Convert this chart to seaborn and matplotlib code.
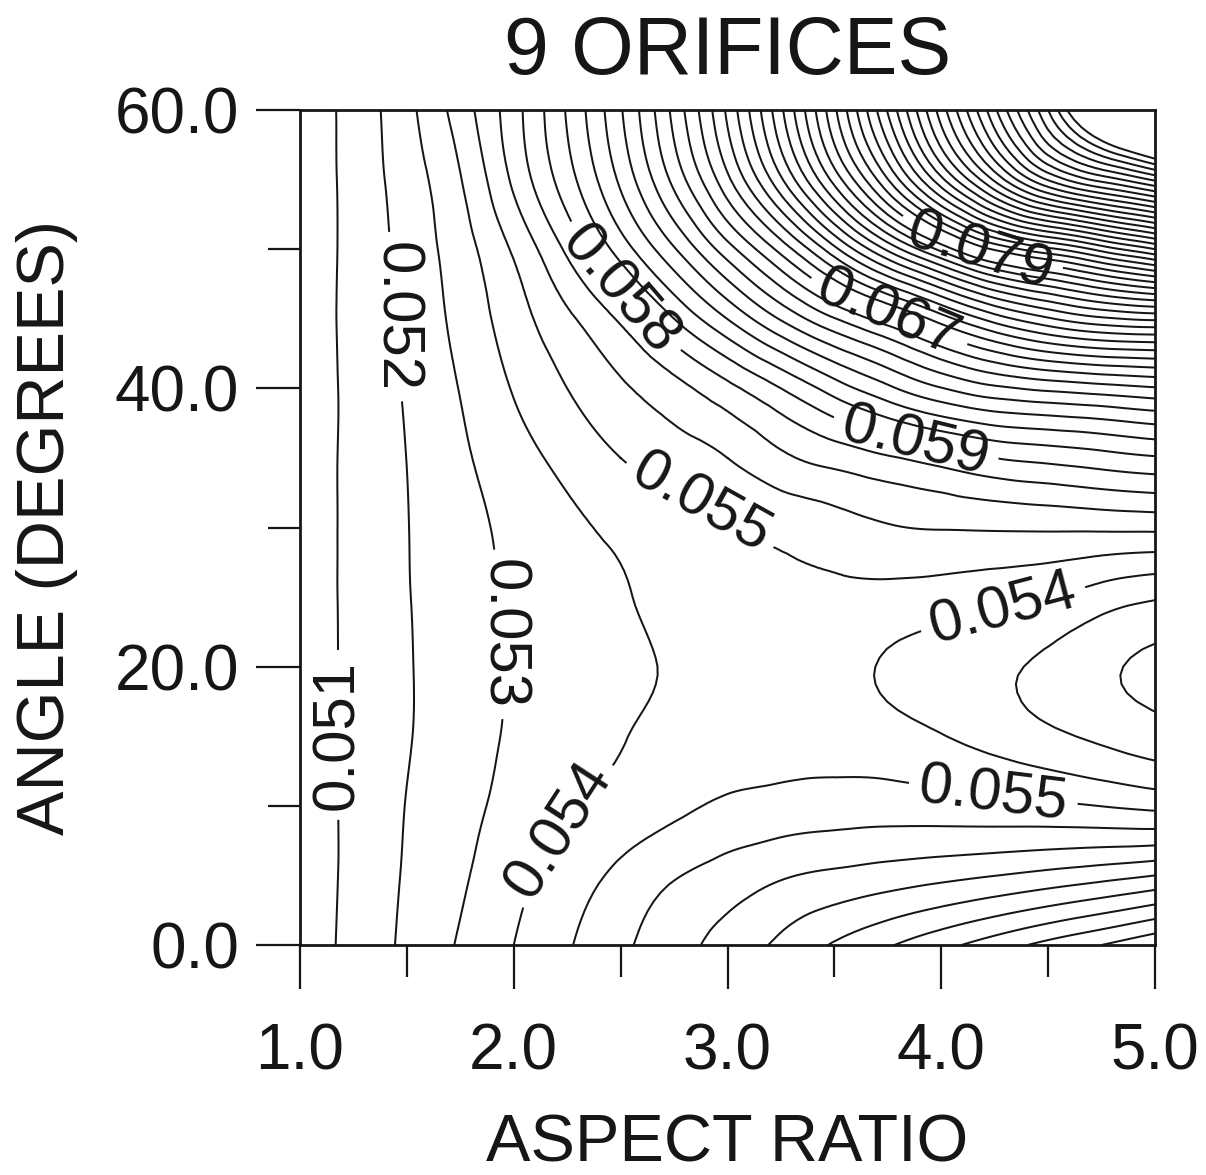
import numpy as np
import pandas as pd
import matplotlib
matplotlib.use("Agg")
import matplotlib.pyplot as plt
import matplotlib.tri as mtri
import seaborn as sns
from matplotlib.ticker import FixedLocator

# ---------------- data ----------------
aspect_ratio = [1.0, 1.25, 1.5, 1.75, 2.0, 2.25, 2.5, 2.75, 3.0,
                3.25, 3.5, 3.75, 4.0, 4.25, 4.5, 4.75, 5.0]
angle_deg = [0, 5, 10, 15, 20, 25, 30, 35, 40, 45, 50, 55, 60]

z_angle_00 = [0.0504, 0.0513, 0.0522, 0.0531, 0.0540, 0.0549, 0.0558, 0.0566, 0.0574,
              0.0582, 0.0591, 0.0599, 0.0607, 0.0615, 0.0623, 0.0630, 0.0638]
z_angle_05 = [0.0504, 0.05125, 0.0521, 0.05286, 0.05368, 0.05447, 0.05523, 0.05592, 0.05642,
              0.05689, 0.05719, 0.05745, 0.05771, 0.05798, 0.05829, 0.05862, 0.0590]
z_angle_10 = [0.0504, 0.05124, 0.05203, 0.0527, 0.05332, 0.0539, 0.05435, 0.05476, 0.05517,
              0.05535, 0.05547, 0.05551, 0.05543, 0.05531, 0.05518, 0.05498, 0.05475]
z_angle_15 = [0.0505, 0.05121, 0.05193, 0.05256, 0.05313, 0.05353, 0.05394, 0.05429, 0.05451,
              0.0546, 0.05455, 0.05436, 0.05404, 0.05363, 0.05321, 0.0528, 0.0524]
z_angle_20 = [0.0505, 0.05121, 0.05192, 0.05254, 0.05309, 0.05342, 0.05376, 0.05412, 0.05444,
              0.05449, 0.0543, 0.0539, 0.05356, 0.05321, 0.05277, 0.05219, 0.0518]
z_angle_25 = [0.0505, 0.05122, 0.05195, 0.05258, 0.05313, 0.05352, 0.05391, 0.0543, 0.05465,
              0.05477, 0.05475, 0.05468, 0.05452, 0.05432, 0.05405, 0.05351, 0.0531]
z_angle_30 = [0.0505, 0.05122, 0.05197, 0.05265, 0.05325, 0.05377, 0.05421, 0.05456, 0.05493,
              0.05526, 0.05559, 0.05593, 0.05605, 0.0561, 0.05614, 0.05618, 0.05622]
z_angle_35 = [0.0504, 0.05124, 0.05201, 0.05282, 0.05359, 0.05431, 0.0550, 0.05551, 0.0560,
              0.0568, 0.05737, 0.05789, 0.05843, 0.0590, 0.0593, 0.0596, 0.0599]
z_angle_40 = [0.0504, 0.05124, 0.0521, 0.05304, 0.05407, 0.0550, 0.05585, 0.05666, 0.05771,
              0.0590, 0.06047, 0.06178, 0.06295, 0.06378, 0.06424, 0.06457, 0.0649]
z_angle_45 = [0.0504, 0.05128, 0.05221, 0.05331, 0.05452, 0.0558, 0.05716, 0.0590, 0.06102,
              0.0631, 0.06494, 0.06658, 0.06851, 0.07046, 0.07186, 0.0728, 0.0732]
z_angle_50 = [0.0503, 0.0513, 0.05232, 0.05355, 0.05514, 0.05719, 0.05944, 0.0619, 0.06458,
              0.06735, 0.07071, 0.07421, 0.07731, 0.08014, 0.08176, 0.08338, 0.0850]
z_angle_55 = [0.0503, 0.05133, 0.05249, 0.05395, 0.0562, 0.05858, 0.0612, 0.06429, 0.06777,
              0.07184, 0.07637, 0.08097, 0.08574, 0.0902, 0.0941, 0.09638, 0.0982]
z_angle_60 = [0.0503, 0.05136, 0.05271, 0.05448, 0.0566, 0.0591, 0.0619, 0.0653, 0.0692,
              0.0738, 0.0788, 0.0841, 0.0895, 0.0948, 0.1000, 0.1055, 0.1100]

contour_min = 0.051
contour_max = 0.102
contour_step = 0.001

# labelled contours: value, (aspect ratio, angle) near which the label sits
label_values = [0.051, 0.052, 0.053, 0.054, 0.055, 0.058, 0.059, 0.067, 0.079, 0.054, 0.055]
label_places = [(1.16, 15.1), (1.40, 45.1), (1.89, 22.3), (2.26, 7.7), (2.86, 31.4),
                (2.55, 47.8), (3.88, 36.3), (3.79, 47.1), (4.23, 52.2), (4.29, 24.1),
                (4.24, 10.4)]
label_rotation = {0.051: 90, 0.052: -90, 0.053: -90}

x_ticks = [1.0, 2.0, 3.0, 4.0, 5.0]
x_minor = [1.5, 2.5, 3.5, 4.5]
y_ticks = [0.0, 20.0, 40.0, 60.0]
y_minor = [10.0, 30.0, 50.0]

# ---------------- figure ----------------
sns.set_theme(style="white")
plt.rcParams["font.family"] = ["Liberation Sans", "DejaVu Sans"]

grid = pd.DataFrame([z_angle_00, z_angle_05, z_angle_10, z_angle_15, z_angle_20,
                     z_angle_25, z_angle_30, z_angle_35, z_angle_40, z_angle_45,
                     z_angle_50, z_angle_55, z_angle_60],
                    index=angle_deg, columns=aspect_ratio)

# smooth contouring through matplotlib's triangulation refiner
angle_scale = 20.0  # makes grid cells roughly square for the interpolator
gx, gy = np.meshgrid(grid.columns.values.astype(float), grid.index.values.astype(float))
tri = mtri.Triangulation(gx.ravel(), gy.ravel() / angle_scale)
zflat = grid.values.ravel()
interp = mtri.CubicTriInterpolator(tri, zflat, kind="min_E")
tri_fine, z_fine = mtri.UniformTriRefiner(tri).refine_field(zflat, triinterpolator=interp,
                                                            subdiv=3)
tri_plot = mtri.Triangulation(tri_fine.x, tri_fine.y * angle_scale, tri_fine.triangles)

levels = np.round(np.arange(contour_min, contour_max + contour_step / 2, contour_step), 3)
labelled = sorted(set(label_values))
plain_levels = [lv for lv in levels if round(lv, 3) not in labelled]

ink = "#161616"
lw = 1.45

fig = plt.figure(figsize=(12.06, 11.75), dpi=100, facecolor="white")
ax = fig.add_axes([300 / 1206, 1 - 945 / 1175, (1155 - 300) / 1206, (945 - 110) / 1175])
ax.set_facecolor("white")

ax.tricontour(tri_plot, z_fine, levels=plain_levels, colors=ink, linewidths=lw)

for val in labelled:
    cs_one = ax.tricontour(tri_plot, z_fine, levels=[val], colors=ink, linewidths=lw)
    places = [p for v, p in zip(label_values, label_places) if v == val]
    texts = cs_one.clabel(manual=places, inline=True, inline_spacing=10,
                          fontsize=43, fmt="%.3f", colors=ink)
    if val in label_rotation:
        for t in texts:
            t.set_rotation(label_rotation[val])

ax.set_xlim(1.0, 5.0)
ax.set_ylim(0.0, 60.0)

ax.xaxis.set_major_locator(FixedLocator(x_ticks))
ax.xaxis.set_minor_locator(FixedLocator(x_minor))
ax.yaxis.set_major_locator(FixedLocator(y_ticks))
ax.yaxis.set_minor_locator(FixedLocator(y_minor))
ax.set_xticklabels([f"{v:.1f}" for v in x_ticks])
ax.set_yticklabels([f"{v:.1f}" for v in y_ticks])

for s in ax.spines.values():
    s.set_visible(True)
    s.set_color(ink)
    s.set_linewidth(2.0)

ax.tick_params(axis="both", which="major", direction="out", length=32, width=1.6,
               color=ink, labelsize=46, labelcolor=ink,
               bottom=True, left=True, top=False, right=False)
ax.tick_params(axis="x", which="major", pad=24)
ax.tick_params(axis="y", which="major", pad=12)
ax.tick_params(axis="both", which="minor", direction="out", length=23, width=1.6,
               color=ink, bottom=True, left=True, top=False, right=False)

ax.set_xlabel("ASPECT RATIO", fontsize=48, color=ink, labelpad=22)
ax.set_ylabel("ANGLE (DEGREES)", fontsize=48, color=ink, labelpad=26)
ax.set_title("9 ORIFICES", fontsize=58, color=ink, pad=26)

fig.savefig("out.png", dpi=100, facecolor="white")
